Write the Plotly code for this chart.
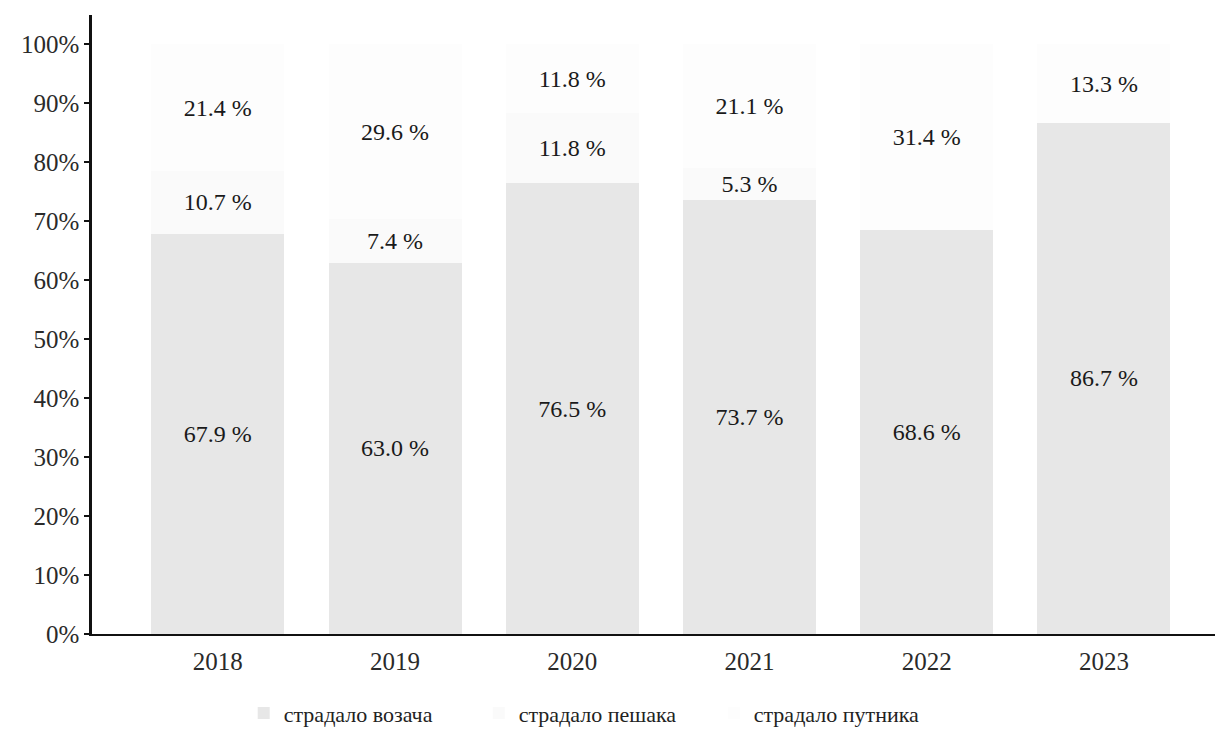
import plotly.graph_objects as go

years = ["2018", "2019", "2020", "2021", "2022", "2023"]
drivers = [67.9, 63.0, 76.5, 73.7, 68.6, 86.7]
pedestrians = [10.7, 7.4, 11.8, 5.3, 0.0, 0.0]
passengers = [21.4, 29.6, 11.8, 21.1, 31.4, 13.3]

series = [
    ("страдало возача", drivers, "#e7e7e7"),
    ("страдало пешака", pedestrians, "#fafafa"),
    ("страдало путника", passengers, "#fdfdfd"),
]

FONT = "Liberation Serif"

fig = go.Figure()
for name, vals, color in series:
    # нуле не исписујемо
    labels = [f"{v:.1f} %" if v > 0 else "" for v in vals]
    fig.add_trace(go.Bar(
        x=years, y=vals, name=name,
        marker={"color": color, "line": {"width": 0}},
        text=labels, textposition="inside", insidetextanchor="middle",
        textangle=0, constraintext="none",
        textfont={"family": FONT, "size": 24, "color": "#1a1a1a"},
    ))

# страница има ~8px маргине у body, па је фигура мало мања
fig.update_layout(
    barmode="stack", bargap=0.25,
    width=1215, height=729,
    margin={"l": 84, "r": 3, "t": 7, "b": 99},
    paper_bgcolor="white", plot_bgcolor="white",
    font={"family": FONT, "size": 22, "color": "#222"},
    legend={
        "orientation": "h", "x": 0.447, "xanchor": "center",
        "y": -0.128, "yanchor": "middle", "traceorder": "normal",
        "font": {"family": FONT, "size": 22, "color": "#222"},
        "entrywidth": 190,
    },
)
fig.update_yaxes(
    range=[0, 105], tickvals=list(range(0, 101, 10)),
    ticktext=[f"{v}%" for v in range(0, 101, 10)],
    showgrid=False, zeroline=False,
    showline=True, linecolor="#111", linewidth=2.5,
    ticks="outside", ticklen=5, tickwidth=2, tickcolor="#111",
    tickfont={"family": FONT, "size": 25, "color": "#2a2a2a"},
)
fig.update_xaxes(
    range=[-0.71, 5.655], showgrid=False,
    showline=True, linecolor="#111", linewidth=2,
    ticks="", ticklabelstandoff=4,
    tickfont={"family": FONT, "size": 25, "color": "#2a2a2a"},
)

fig.write_html("out.html")
